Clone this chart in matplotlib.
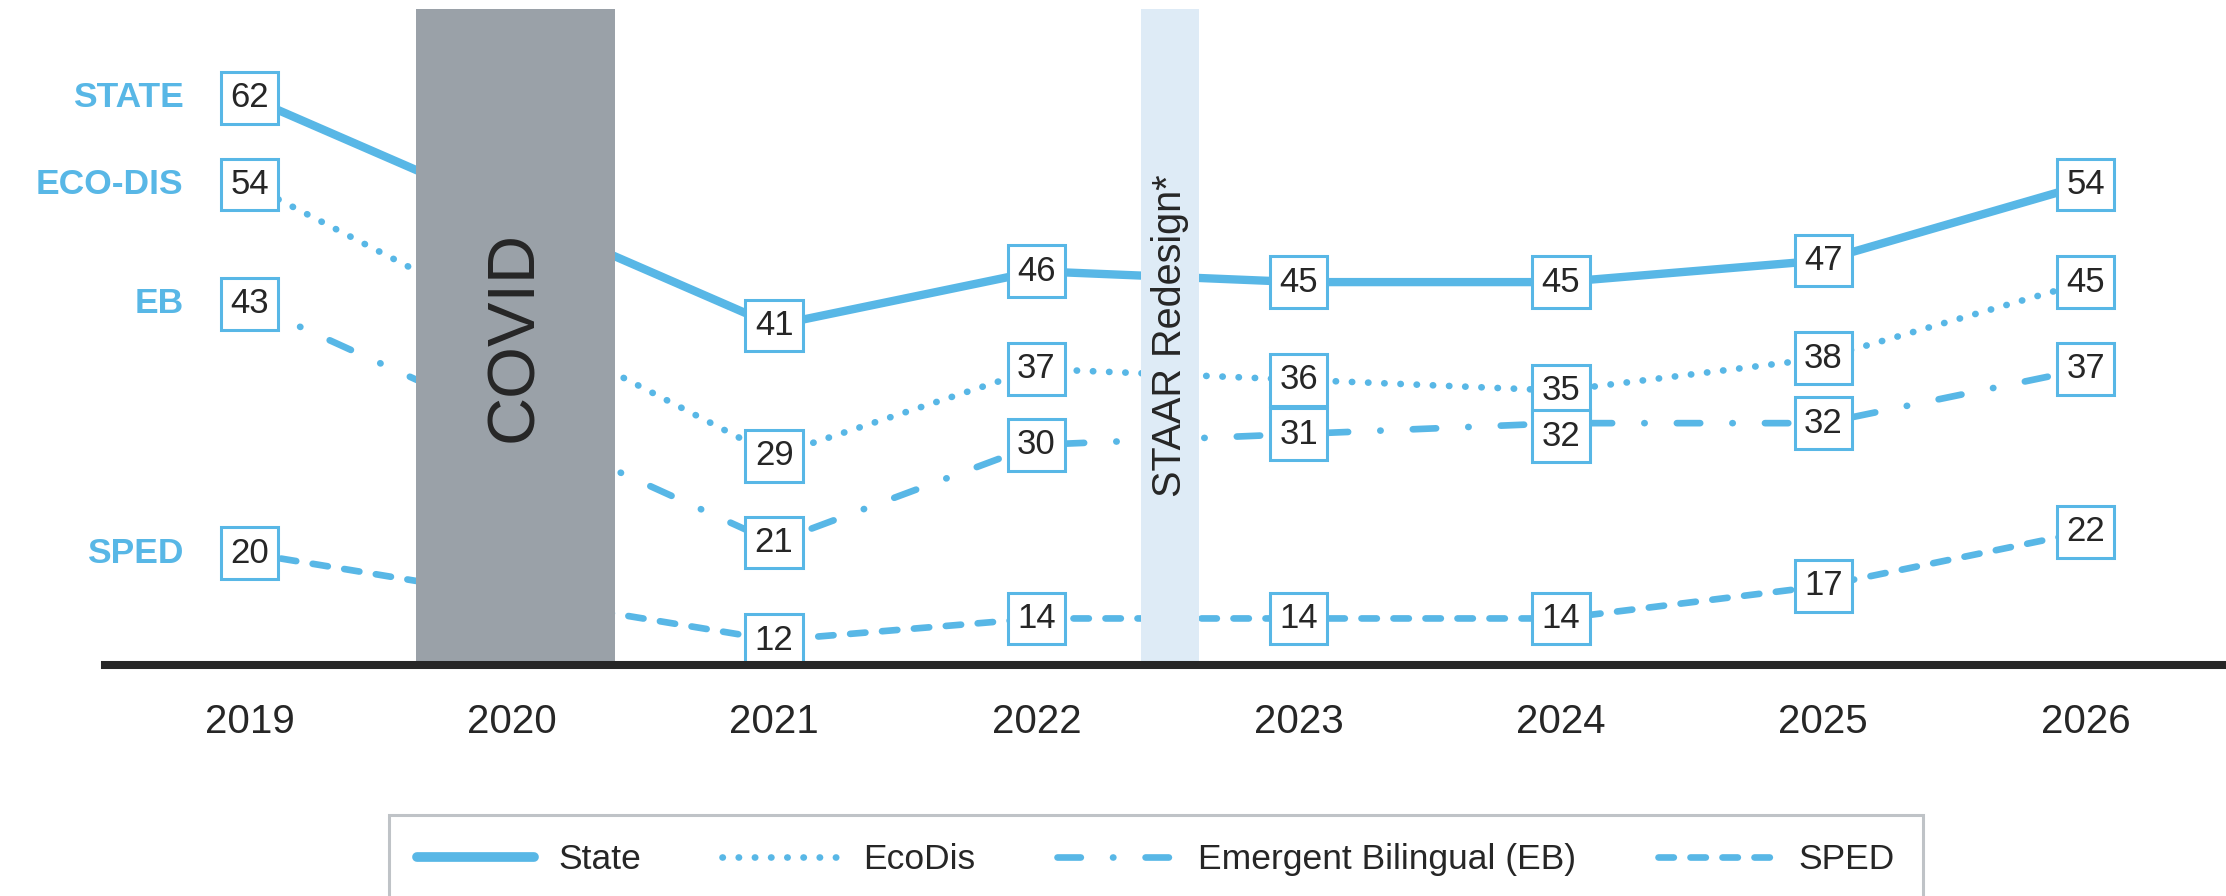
import numpy as np
import matplotlib.pyplot as plt
from matplotlib.lines import Line2D

plt.rcParams['font.family'] = ['Liberation Sans', 'DejaVu Sans']

tick_years = [2019, 2020, 2021, 2022, 2023, 2024, 2025, 2026]
data_years = [2019, 2021, 2022, 2023, 2024, 2025, 2026]   # no 2020 (COVID)
state = [62, 41, 46, 45, 45, 47, 54]
ecodis = [54, 29, 37, 36, 35, 38, 45]
eb = [43, 21, 30, 31, 32, 32, 37]
sped = [20, 12, 14, 14, 14, 17, 22]
legend_names = ['State', 'EcoDis', 'Emergent Bilingual (EB)', 'SPED']
side_names = ['STATE', 'ECO-DIS', 'EB', 'SPED']

blue = '#58B7E6'
dark = '#262626'
W, H = 2226, 896

fig = plt.figure(figsize=(W / 100, H / 100), dpi=100, facecolor='white')
ax = fig.add_axes([105 / W, 1 - 665 / H, (2222 - 105) / W, (665 - 9) / H])
ax.set_xlim(2018.449, 2026.52)
ax.set_ylim(9.71, 70.17)

lw_thin = 4.8
styles = [
    dict(lw=6.0, ls='-'),
    dict(lw=lw_thin, ls=(0, (0.05, 2.38))),
    dict(lw=lw_thin, ls=(0, (3.5, 4.83, 0.05, 4.83))),
    dict(lw=lw_thin, ls=(0, (2.3, 2.5))),
]
series = [state, ecodis, eb, sped]

for vals, st in zip(series, styles):
    ax.plot(data_years, vals, color=blue, lw=st['lw'], ls=st['ls'],
            dash_capstyle='round', solid_capstyle='round', zorder=2)

# event bands
ax.axvspan(2019.635, 2020.393, color='#9AA1A8', zorder=3, lw=0)
ax.axvspan(2022.40, 2022.62, color='#DEEBF6', zorder=3, lw=0)
ax.text(2020.014, 40, 'COVID', rotation=90, ha='center', va='center',
        fontsize=48, color=dark, zorder=4)
ax.text(2022.51, 40.1, 'STAAR Redesign*', rotation=90, ha='center', va='center',
        fontsize=28.5, color=dark, zorder=4)

# value boxes (one nudge where boxes would overlap)
nudge = {(2, 2024): -1.2}
for si, vals in enumerate(series):
    for yr, v in zip(data_years, vals):
        ax.text(yr, v + nudge.get((si, yr), 0), str(v), ha='center', va='center',
                fontsize=25, color=dark, zorder=5,
                bbox=dict(boxstyle='square,pad=0.27', fc='white', ec=blue, lw=2.2))

# side labels
for name, vals in zip(side_names, series):
    ax.text(2018.748, vals[0], name, ha='right', va='center', fontsize=25.5,
            fontweight='bold', color=blue)

for s in ['top', 'left', 'right']:
    ax.spines[s].set_visible(False)
ax.spines['bottom'].set_linewidth(5.8)
ax.spines['bottom'].set_color(dark)
ax.spines['bottom'].set_zorder(10)
ax.set_yticks([])
ax.set_xticks(tick_years)
ax.tick_params(axis='x', length=0, pad=27, labelsize=29, labelcolor=dark)

handles = [Line2D([], [], color=blue, lw=7 if i == 0 else lw_thin, ls=st['ls'],
                  dash_capstyle='round', solid_capstyle='round')
           for i, st in enumerate(styles)]
leg = fig.legend(handles, legend_names, loc='upper center', ncol=4,
                 bbox_to_anchor=(1156 / W, 1 - 815 / H), fontsize=25.5,
                 handlelength=3.3, handletextpad=0.68, columnspacing=2.3,
                 borderpad=0.8, borderaxespad=0, fancybox=False, framealpha=1)
leg.get_frame().set_edgecolor('#BFC3C7')
leg.get_frame().set_linewidth(2.2)
for t in leg.get_texts():
    t.set_color(dark)

fig.savefig('out.png', dpi=100)
